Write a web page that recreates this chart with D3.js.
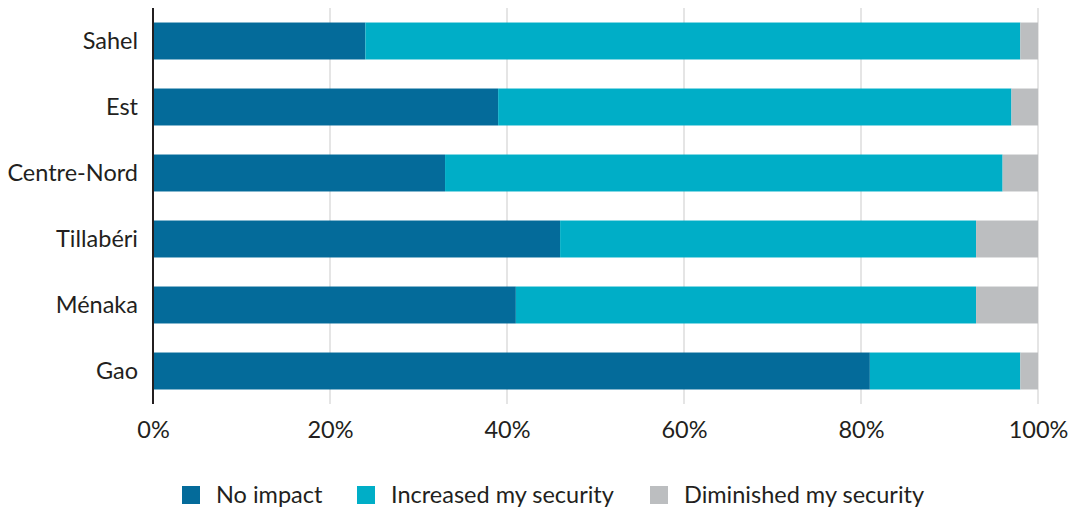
<!DOCTYPE html>
<html>
<head>
<meta charset="utf-8">
<script src="https://cdn.jsdelivr.net/npm/d3@7"></script>
<style>
  body { margin: 0; background: #fff; }
  svg text { font-family: Lato, "Noto Sans", sans-serif; fill: #231f20; }
</style>
</head>
<body>
<svg id="chart" width="1070" height="510"></svg>
<script>
// data
var regions = ["Sahel", "Est", "Centre-Nord", "Tillabéri", "Ménaka", "Gao"]
var noImpact = [24, 39, 33, 46, 41, 81]
var increased = [74, 58, 63, 47, 52, 17]
var diminished = [2, 3, 4, 7, 7, 2]
var seriesNames = ["No impact", "Increased my security", "Diminished my security"]
var seriesColors = ["#046b9a", "#00aec7", "#bcbec0"]
var xTicks = [0, 20, 40, 60, 80, 100]

var svg = d3.select("#chart")
var margin = {left: 153, right: 32, top: 8, bottom: 106}
var width = 1070 - margin.left - margin.right
var height = 510 - margin.top - margin.bottom
var fontSize = "23.5px"

var rows = regions.map(function (r, i) {
  return {region: r, a: noImpact[i], b: increased[i], c: diminished[i]}
})
var stack = d3.stack().keys(["a", "b", "c"])(rows)

var x = d3.scaleLinear().domain([0, 100]).range([0, width])
var y = d3.scaleBand().domain(regions).range([0, height]).paddingInner(0.44).paddingOuter(0.22)

var g = svg.append("g").attr("transform", "translate(" + margin.left + "," + margin.top + ")")

// grid lines
g.append("g")
  .selectAll("line")
  .data(xTicks.slice(1))
  .enter().append("line")
    .attr("x1", function (d) { return x(d) })
    .attr("x2", function (d) { return x(d) })
    .attr("y1", 0)
    .attr("y2", height)
    .attr("stroke", "#dcdcdc")
    .attr("stroke-width", 1.5)

// bars
g.append("g")
  .selectAll("g")
  .data(stack)
  .enter().append("g")
    .attr("fill", function (d, i) { return seriesColors[i] })
  .selectAll("rect")
  .data(function (d) { return d })
  .enter().append("rect")
    .attr("x", function (d) { return x(d[0]) })
    .attr("width", function (d) { return x(d[1]) - x(d[0]) })
    .attr("y", function (d) { return y(d.data.region) })
    .attr("height", y.bandwidth())

// x axis labels
var xAxis = d3.axisBottom(x).tickValues(xTicks).tickSize(0).tickPadding(17)
  .tickFormat(function (d) { return d + "%" })
g.append("g")
  .attr("transform", "translate(0," + height + ")")
  .call(xAxis)
  .call(function (s) { s.select(".domain").remove() })
  .selectAll("text")
    .style("font-size", fontSize)
    .attr("fill", "#231f20")

// y axis
var yAxis = d3.axisLeft(y).tickSize(0).tickPadding(15)
g.append("g")
  .call(yAxis)
  .call(function (s) { s.select(".domain").remove() })
  .selectAll("text")
    .style("font-size", fontSize)
    .attr("fill", "#231f20")

g.append("line")
  .attr("x1", 0).attr("x2", 0)
  .attr("y1", 0).attr("y2", height)
  .attr("stroke", "#231f20")
  .attr("stroke-width", 2)

// legend
var legendX = [182, 357, 650]
var legend = svg.append("g").attr("transform", "translate(0,495)")
seriesNames.forEach(function (name, i) {
  legend.append("rect")
    .attr("x", legendX[i]).attr("y", -9)
    .attr("width", 18).attr("height", 18)
    .attr("fill", seriesColors[i])
  legend.append("text")
    .attr("x", legendX[i] + 34).attr("y", 0)
    .attr("dy", "0.35em")
    .style("font-size", fontSize)
    .text(name)
})
</script>
</body>
</html>
